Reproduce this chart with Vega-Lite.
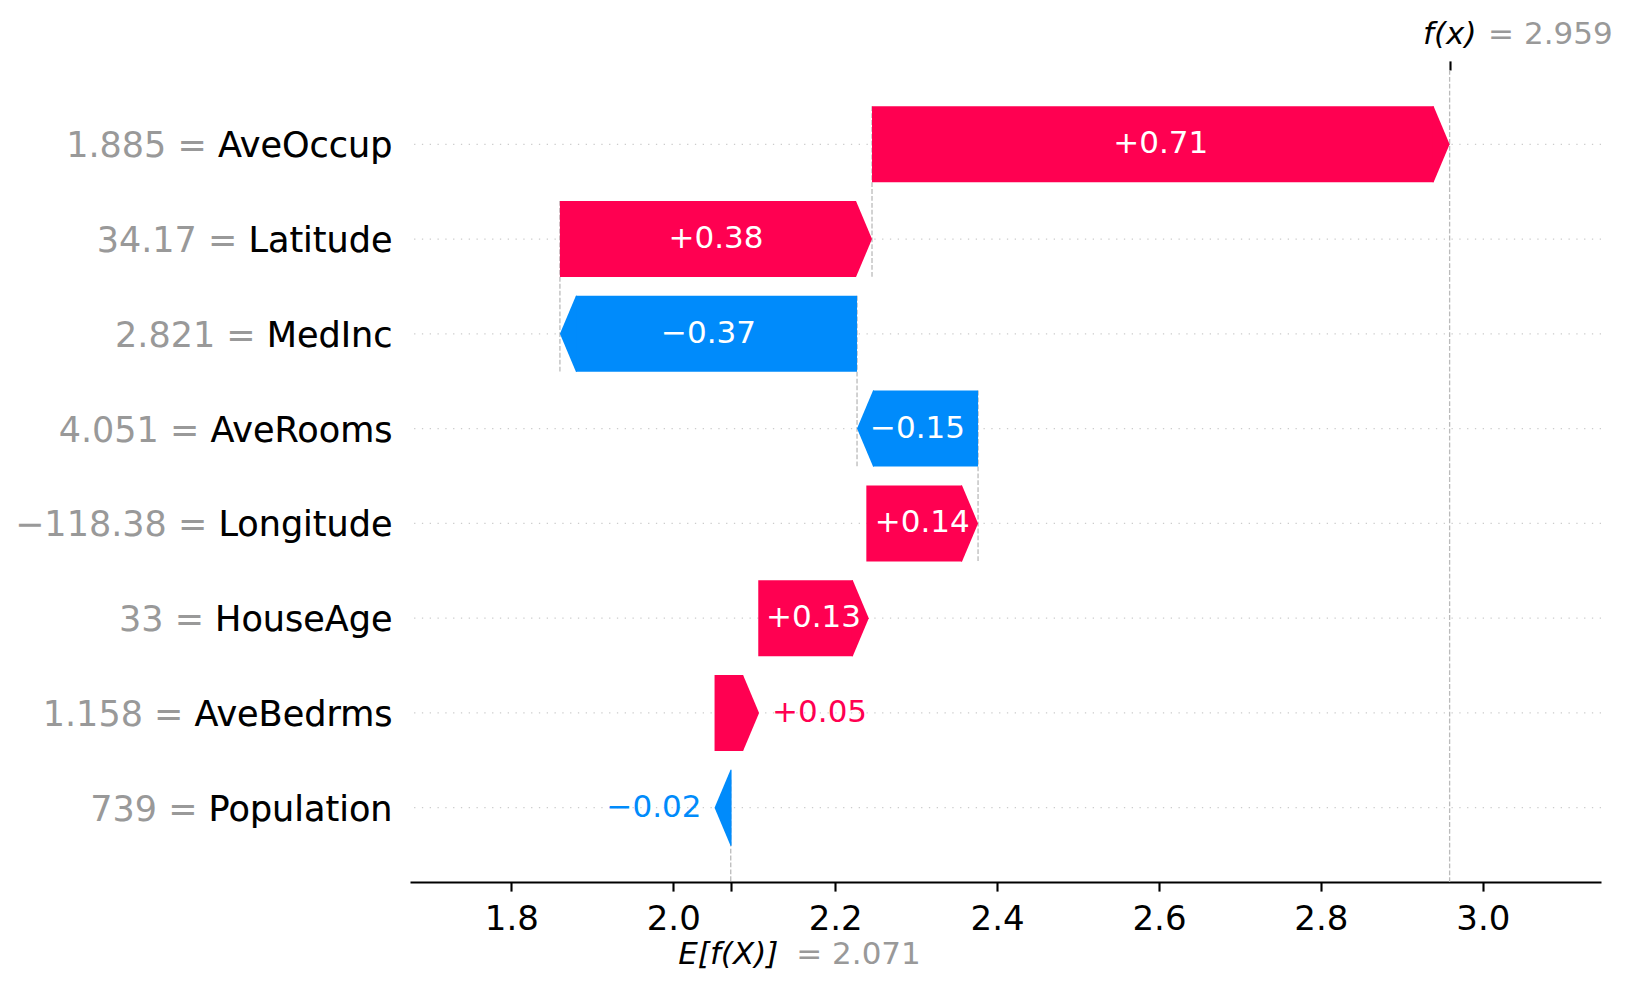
{
  "$schema": "https://vega.github.io/schema/vega-lite/v6.json",
  "autosize": "none",
  "padding": {"left": 410, "top": 70, "right": 28, "bottom": 108},
  "width": 1191,
  "height": 812,
  "background": "white",
  "config": {"view": {"stroke": null}, "font": "DejaVu Sans", "axis": {"labelFont": "DejaVu Sans", "grid": false, "labelFlush": false, "labelOverlap": false, "title": null}},
  "datasets": {
    "rows": [
      {"yLabel": "1.885 = AveOccup", "label": "+0.71", "start": 2.2455, "end": 2.959},
      {"yLabel": "34.17 = Latitude", "label": "+0.38", "start": 1.86, "end": 2.2455},
      {"yLabel": "2.821 = MedInc", "label": "−0.37", "start": 2.227, "end": 1.86},
      {"yLabel": "4.051 = AveRooms", "label": "−0.15", "start": 2.3765, "end": 2.227},
      {"yLabel": "−118.38 = Longitude", "label": "+0.14", "start": 2.2385, "end": 2.3765},
      {"yLabel": "33 = HouseAge", "label": "+0.13", "start": 2.105, "end": 2.2415},
      {"yLabel": "1.158 = AveBedrms", "label": "+0.05", "start": 2.051, "end": 2.106},
      {"yLabel": "739 = Population", "label": "−0.02", "start": 2.071, "end": 2.051}
    ],
    "summary": [{"base": 2.071, "fx": 2.959}]
  },
  "data": {"name": "rows"},
  "resolve": {"axis": {"x": "independent", "y": "independent"}},
  "layer": [
    {
      "mark": {"type": "rule", "color": "#cccccc", "strokeWidth": 1.3, "strokeDash": [1.3, 6.5]},
      "encoding": {
        "y": {"field": "yLabel", "type": "nominal",
          "scale": {"domain": ["1.885 = AveOccup", "34.17 = Latitude", "2.821 = MedInc", "4.051 = AveRooms", "−118.38 = Longitude", "33 = HouseAge", "1.158 = AveBedrms", "739 = Population"], "paddingInner": 0, "paddingOuter": 0.284},
          "axis": {"orient": "left", "zindex": 1, "domain": false, "ticks": false, "labelPadding": 18, "labelFontSize": 35, "labelColor": "#999999", "labelLimit": 1000, "labelBaseline": "alphabetic", "labelOffset": 13, "labelAlign": "right"}}
      }
    },
    {
      "transform": [{"filter": "indexof(['1.885 = AveOccup','34.17 = Latitude','2.821 = MedInc','4.051 = AveRooms'], datum.yLabel) >= 0"}],
      "mark": {"type": "rule", "color": "#bbbbbb", "strokeWidth": 1.3, "strokeDash": [4.8, 2.1], "yOffset": -38, "y2Offset": 132.8},
      "encoding": {
        "x": {"field": "start", "type": "quantitative", "scale": {"domain": [1.6748, 3.146], "nice": false, "zero": false},
          "axis": {"orient": "top", "values": [2.959], "labelExpr": "'f(x)'", "labelFontStyle": "italic", "labelFontSize": 31, "labelColor": "#000000", "labelAlign": "left", "labelOffset": -27, "labelBaseline": "alphabetic", "labelPadding": 17.6, "tickSize": 9.1, "tickWidth": 2.1, "tickColor": "#000000", "domain": false}},
        "y": {"field": "yLabel", "type": "nominal", "axis": null},
        "y2": {"field": "yLabel"}
      }
    },
    {
      "data": {"name": "summary"},
      "mark": {"type": "rule", "color": "#bbbbbb", "strokeWidth": 1.3, "strokeDash": [4.8, 2.1], "yOffset": -28, "y2Offset": 74},
      "encoding": {
        "x": {"field": "base", "type": "quantitative", "scale": {"domain": [1.6748, 3.146], "nice": false, "zero": false},
          "axis": {"orient": "top", "values": [2.959], "labelExpr": "'= 2.959'", "labelFontSize": 31, "labelColor": "#999999", "labelAlign": "left", "labelOffset": 38, "labelBaseline": "alphabetic", "labelPadding": 17.6, "tickSize": 9.1, "tickOpacity": 0, "domain": false}},
        "y": {"datum": "739 = Population", "type": "nominal", "axis": null},
        "y2": {"datum": "739 = Population"}
      }
    },
    {
      "data": {"name": "summary"},
      "mark": {"type": "rule", "color": "#bbbbbb", "strokeWidth": 1.3, "strokeDash": [4.8, 2.1]},
      "encoding": {
        "x": {"field": "fx", "type": "quantitative", "scale": {"domain": [1.6748, 3.146], "nice": false, "zero": false},
          "axis": {"orient": "bottom", "values": [2.071], "labelExpr": "'E[f(X)]'", "labelFontStyle": "italic", "labelFontSize": 31, "labelColor": "#000000", "labelAlign": "left", "labelOffset": -53, "labelBaseline": "alphabetic", "labelPadding": 72, "tickSize": 9.1, "tickWidth": 2.1, "tickColor": "#000000", "domain": false}}
      }
    },
    {
      "transform": [{"filter": "datum.end > datum.start"}],
      "mark": {"type": "bar", "color": "#ff0051", "size": 76, "x2Offset": -16},
      "encoding": {
        "x": {"field": "start", "type": "quantitative", "scale": {"domain": [1.6748, 3.146], "nice": false, "zero": false},
          "axis": {"orient": "bottom", "values": [1.8, 2.0, 2.2, 2.4, 2.6, 2.8, 3.0], "format": ".1f", "labelFontSize": 34, "labelColor": "#000000", "labelBaseline": "alphabetic", "labelPadding": 38, "tickSize": 9.1, "tickWidth": 2.1, "tickColor": "#000000", "domain": true, "domainColor": "#000000", "domainWidth": 2.1}},
        "x2": {"field": "end"},
        "y": {"field": "yLabel", "type": "nominal",
          "axis": {"orient": "left", "zindex": 2, "domain": false, "ticks": false, "labelPadding": 18, "labelFontSize": 35, "labelColor": "#000000", "labelLimit": 1000, "labelBaseline": "alphabetic", "labelOffset": 13, "labelAlign": "right", "labelExpr": "slice(datum.label, indexof(datum.label, '= ') + 2)"}}
      }
    },
    {
      "transform": [{"filter": "datum.end < datum.start"}],
      "mark": {"type": "bar", "color": "#008bfb", "size": 76, "x2Offset": 16},
      "encoding": {
        "x": {"field": "start", "type": "quantitative", "scale": {"domain": [1.6748, 3.146], "nice": false, "zero": false},
          "axis": {"orient": "bottom", "values": [2.071], "labelExpr": "'= 2.071'", "labelFontSize": 31, "labelColor": "#999999", "labelAlign": "left", "labelOffset": 65, "labelBaseline": "alphabetic", "labelPadding": 72, "tickSize": 9.1, "tickOpacity": 0, "domain": false}},
        "x2": {"field": "end"},
        "y": {"field": "yLabel", "type": "nominal", "axis": null}
      }
    },
    {
      "transform": [{"filter": "datum.end > datum.start"}],
      "mark": {"type": "point", "filled": true, "opacity": 1, "strokeWidth": 0, "color": "#ff0051", "size": 5776, "shape": "M0,0L-0.421,-1L-0.447,-1L-0.447,1L-0.421,1Z"},
      "encoding": {
        "x": {"field": "end", "type": "quantitative", "scale": {"domain": [1.6748, 3.146], "nice": false, "zero": false}, "axis": null},
        "y": {"field": "yLabel", "type": "nominal", "axis": null}
      }
    },
    {
      "transform": [{"filter": "datum.end < datum.start"}],
      "mark": {"type": "point", "filled": true, "opacity": 1, "strokeWidth": 0, "color": "#008bfb", "size": 5776, "shape": "M0,0L0.421,-1L0.447,-1L0.447,1L0.421,1Z"},
      "encoding": {
        "x": {"field": "end", "type": "quantitative", "scale": {"domain": [1.6748, 3.146], "nice": false, "zero": false}, "axis": null},
        "y": {"field": "yLabel", "type": "nominal", "axis": null}
      }
    },
    {
      "transform": [
        {"filter": "abs(datum.end - datum.start) > 0.1"},
        {"fold": ["start", "end"], "as": ["edge", "pos"]}
      ],
      "mark": {"type": "text", "color": "white", "fontSize": 31, "align": "center", "baseline": "alphabetic", "dy": 9},
      "encoding": {
        "x": {"aggregate": "mean", "field": "pos", "type": "quantitative", "scale": {"domain": [1.6748, 3.146], "nice": false, "zero": false}, "axis": null},
        "y": {"field": "yLabel", "type": "nominal", "axis": null},
        "text": {"field": "label", "type": "nominal"}
      }
    },
    {
      "transform": [{"filter": "abs(datum.end - datum.start) <= 0.1 && datum.end > datum.start"}],
      "mark": {"type": "text", "color": "#ff0051", "fontSize": 31, "align": "left", "baseline": "alphabetic", "dy": 9, "dx": 13},
      "encoding": {
        "x": {"field": "end", "type": "quantitative", "scale": {"domain": [1.6748, 3.146], "nice": false, "zero": false}, "axis": null},
        "y": {"field": "yLabel", "type": "nominal", "axis": null},
        "text": {"field": "label", "type": "nominal"}
      }
    },
    {
      "transform": [{"filter": "abs(datum.end - datum.start) <= 0.1 && datum.end < datum.start"}],
      "mark": {"type": "text", "color": "#008bfb", "fontSize": 31, "align": "right", "baseline": "alphabetic", "dy": 9, "dx": -13},
      "encoding": {
        "x": {"field": "end", "type": "quantitative", "scale": {"domain": [1.6748, 3.146], "nice": false, "zero": false}, "axis": null},
        "y": {"field": "yLabel", "type": "nominal", "axis": null},
        "text": {"field": "label", "type": "nominal"}
      }
    }
  ]
}
